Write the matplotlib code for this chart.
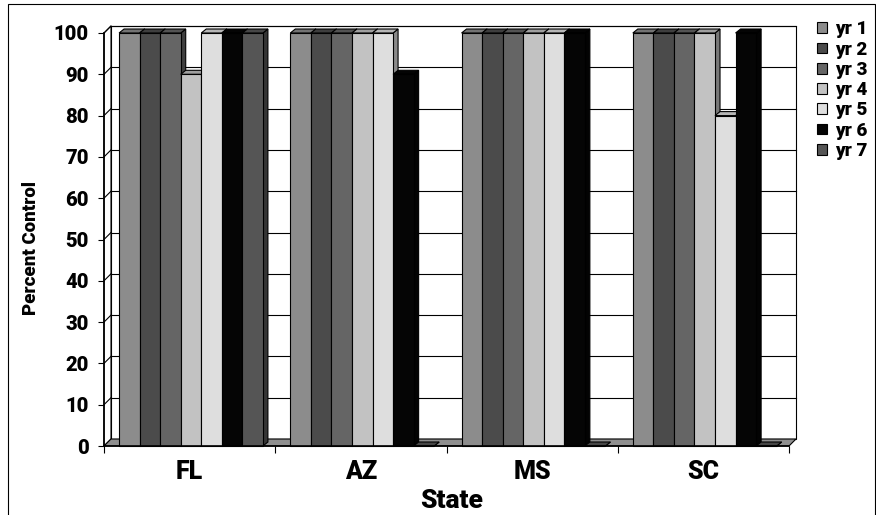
import matplotlib
matplotlib.use("Agg")
import matplotlib.pyplot as plt
from matplotlib.patches import Polygon, Rectangle, Patch
import matplotlib.colors as mcolors

# data
states = ['FL', 'AZ', 'MS', 'SC']
years = ['yr 1', 'yr 2', 'yr 3', 'yr 4', 'yr 5', 'yr 6', 'yr 7']
yr1 = [100, 100, 100, 100]
yr2 = [100, 100, 100, 100]
yr3 = [100, 100, 100, 100]
yr4 = [90, 100, 100, 100]
yr5 = [100, 100, 100, 80]
yr6 = [100, 90, 100, 100]
yr7 = [100, 0, 0, 0]
series = [yr1, yr2, yr3, yr4, yr5, yr6, yr7]
colors = ['#8c8c8c', '#4b4b4b', '#656565', '#c2c2c2', '#dedede', '#050505', '#555555']

plt.rcParams['font.family'] = ['Roboto', 'DejaVu Sans']
WT = 'black'

W, H = 876, 515
fig = plt.figure(figsize=(W / 100, H / 100), dpi=100)
x0p, x1p, y0p, y1p = 104, 789, 446, 33
ax = fig.add_axes([x0p / W, (H - y0p) / H, (x1p - x0p) / W, (y0p - y1p) / H])
ax.set_xlim(0, 4)
ax.set_ylim(0, 100)

# pixel -> data
PX = 4 / (x1p - x0p)
PY = 100 / (y0p - y1p)
WDX, WDY = 7 * PX, 7 * PY   # wall depth
BDX, BDY = 5 * PX, 4 * PY   # bar depth

lw = 0.8
kw = dict(clip_on=False, lw=lw, ec='black')

# back wall, left wall, floor
ax.add_patch(Polygon([(WDX, WDY), (4 + WDX, WDY), (4 + WDX, 100 + WDY), (WDX, 100 + WDY)],
                     fc='white', zorder=1, **kw))
ax.add_patch(Polygon([(0, 0), (WDX, WDY), (WDX, 100 + WDY), (0, 100)],
                     fc='white', zorder=1.5, **kw))
for v in range(10, 101, 10):
    ax.plot([WDX, 4 + WDX], [v + WDY, v + WDY], color='black', lw=lw, zorder=2, clip_on=False)
    ax.plot([0, WDX], [v, v + WDY], color='black', lw=lw, zorder=2, clip_on=False)
ax.add_patch(Polygon([(0, 0), (4, 0), (4 + WDX, WDY), (WDX, WDY)],
                     fc='#8f8f8f', zorder=3, **kw))

# bars
start, bw = 0.088, 0.12
z = 4
for g in range(len(states)):
    for j, s in enumerate(series):
        h = s[g]
        a = g + start + j * bw
        b = a + bw
        c = colors[j]
        rgb = mcolors.to_rgb(c)
        top = tuple(v * 0.82 for v in rgb)
        side = tuple(v * 0.62 for v in rgb)
        ax.add_patch(Polygon([(b, 0), (b + BDX, BDY), (b + BDX, h + BDY), (b, h)],
                             fc=side, zorder=z, **kw))
        ax.add_patch(Polygon([(a, h), (b, h), (b + BDX, h + BDY), (a + BDX, h + BDY)],
                             fc=top, zorder=z, **kw))
        ax.add_patch(Rectangle((a, 0), bw, h, fc=c, zorder=z + 0.5, **kw))
        z += 1

# axes lines and ticks
for sp in ['top', 'right']:
    ax.spines[sp].set_visible(False)
for sp in ['left', 'bottom']:
    ax.spines[sp].set_linewidth(lw + 0.4)
    ax.spines[sp].set_zorder(200)
ax.set_yticks(range(0, 101, 10))
ax.set_yticklabels([str(v) for v in range(0, 101, 10)], fontsize=14.5, fontweight=WT)
ax.tick_params(axis='y', length=4, width=lw, pad=7, direction='out')
ax.set_xticks([g + 0.5 for g in range(len(states))])
ax.set_xticklabels(states, fontsize=18, fontweight=WT)
ax.tick_params(axis='x', length=0, pad=10)
ax.set_xticks(range(0, 5), minor=True)
ax.tick_params(axis='x', which='minor', length=5, width=lw, direction='out')
ax.patch.set_visible(False)

fig.text(452 / W, (H - 501) / H, 'State', fontsize=19, fontweight=WT, ha='center', va='center')
fig.text(31 / W, (H - 248) / H, 'Percent Control', fontsize=13.5, fontweight=WT,
         rotation=90, ha='center', va='center')

handles = [Patch(fc=c, ec='black', lw=lw) for c in colors]
fig.legend(handles, years, loc='upper left', bbox_to_anchor=(808 / W, 1 - 11 / H),
           frameon=False, handlelength=0.5, handleheight=0.5, handletextpad=0.45,
           labelspacing=0.12, borderpad=0, prop=dict(size=13.5, weight=WT))

# outer frame
fig.patches.append(Rectangle((8 / W, -0.02), (875 - 8) / W, 1.02 - 4 / H, transform=fig.transFigure,
                             fill=False, ec='black', lw=lw))

fig.savefig('out.png', dpi=100)
